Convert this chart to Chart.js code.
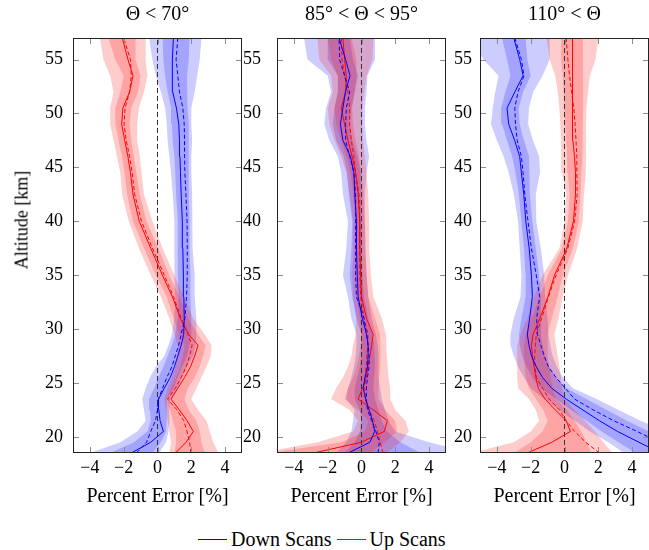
<!DOCTYPE html>
<html>
<head>
<meta charset="utf-8">
<script src="https://cdn.jsdelivr.net/npm/chart.js@4.4.0/dist/chart.umd.min.js"></script>
<style>
  body { margin: 0; background: #fff; width: 649px; height: 550px; position: relative; overflow: hidden; font-family: "Liberation Serif", serif; color: #000; }
  canvas { position: absolute; top: 0; }
  #ylab { position: absolute; left: 22px; top: 220px; transform: translate(-50%, -50%) rotate(-90deg); font-size: 18px; white-space: nowrap; }
  #legend { position: absolute; left: 198px; top: 527px; height: 24px; display: flex; align-items: center; font-size: 20px; white-space: nowrap; }
  .sw { display: inline-block; width: 29px; height: 1px; margin-right: 4px; }
</style>
</head>
<body>
<canvas id="c1" width="246" height="510" style="left:0px"></canvas>
<canvas id="c2" width="224" height="510" style="left:226px"></canvas>
<canvas id="c3" width="219" height="510" style="left:430px"></canvas>
<div id="ylab">Altitude [km]</div>
<div id="legend"><span class="sw" style="background:#0000ff"></span>Down Scans<span class="sw" style="background:#ff0000;margin-left:5px"></span>Up Scans</div>
<script>
// altitude grid [km], shared by all series
var altitude = [18.5, 19.5, 20.5, 21.5, 22.5, 23.5, 24.5, 25.5, 26.5, 27.5, 28.5, 29.5, 31, 33, 35, 37.5, 40, 42.5, 44.5, 46, 47.5, 49, 50.5, 52, 53.5, 55, 57];
var xTicks = [-4, -2, 0, 2, 4];
var yTicks = [20, 25, 30, 35, 40, 45, 50, 55];
var titles = ['Θ < 70°', '85° < Θ < 95°', '110° < Θ'];
var altMin = 18.5, altMax = 57;

// panel 1: Θ < 70°
var p1DownSolid   = [-1.55, -0.4, 0.35, 0.15, 0.08, 0.06, 0.4, 0.75, 1.0, 1.2, 1.4, 1.55, 1.58, 1.56, 1.53, 1.5, 1.47, 1.4, 1.36, 1.33, 1.3, 1.26, 1.12, 0.9, 0.86, 0.9, 0.94];
var p1DownDashed  = [-1.25, -0.65, -0.4, -0.12, 0.0, 0.05, 0.3, 0.55, 0.85, 1.05, 1.25, 1.4, 1.62, 1.72, 1.76, 1.76, 1.75, 1.68, 1.62, 1.6, 1.6, 1.58, 1.5, 1.3, 1.2, 1.1, 1.2];
var p1DownInnerLo = [-2.8, -1.4, -0.6, -0.4, -0.45, -0.5, -0.2, 0.05, 0.35, 0.6, 0.85, 1.05, 1.2, 1.25, 1.2, 1.2, 1.2, 1.1, 1.05, 1.0, 0.9, 0.85, 0.8, 0.6, 0.45, 0.35, 0.3];
var p1DownInnerHi = [-0.3, 0.2, 0.5, 0.55, 0.55, 0.55, 0.95, 1.2, 1.45, 1.75, 1.9, 2.0, 2.0, 1.95, 1.95, 1.9, 1.9, 1.85, 1.85, 1.85, 1.85, 1.85, 1.8, 1.75, 1.75, 1.85, 1.9];
var p1DownOuterLo = [-4.0, -2.2, -1.2, -0.7, -0.8, -0.9, -0.7, -0.45, -0.1, 0.4, 0.65, 0.85, 1.0, 1.05, 1.0, 1.0, 1.0, 0.9, 0.8, 0.7, 0.6, 0.55, 0.45, 0.2, -0.1, -0.3, -0.5];
var p1DownOuterHi = [0.1, 0.5, 0.65, 0.7, 0.7, 0.75, 1.2, 1.45, 1.75, 2.1, 2.25, 2.3, 2.3, 2.2, 2.2, 2.1, 2.05, 2.05, 2.0, 2.0, 2.05, 2.0, 2.0, 2.2, 2.35, 2.5, 2.6];
var p1UpSolid     = [1.06, 1.69, 2.12, 1.75, 1.29, 0.8, 1.2, 1.6, 1.95, 2.2, 2.4, 1.85, 1.35, 0.88, 0.29, -0.4, -1.08, -1.45, -1.6, -1.75, -1.94, -2.12, -2.05, -1.65, -1.45, -1.75, -2.08];
var p1UpDashed    = [1.98, 1.9, 1.75, 1.55, 1.15, 0.6, 1.05, 1.4, 1.7, 1.9, 2.05, 1.8, 1.4, 0.95, 0.4, -0.3, -0.95, -1.35, -1.5, -1.65, -1.85, -1.98, -1.92, -1.65, -1.55, -1.6, -2.0];
var p1UpInnerLo   = [1.0, 1.1, 1.1, 0.9, 0.75, 0.55, 0.8, 1.1, 1.35, 1.5, 1.6, 1.3, 0.95, 0.55, -0.1, -0.8, -1.45, -1.8, -1.95, -2.1, -2.3, -2.5, -2.5, -2.2, -2.0, -2.5, -2.9];
var p1UpInnerHi   = [2.8, 2.6, 2.5, 2.3, 1.85, 1.6, 1.8, 2.2, 2.5, 2.7, 2.85, 2.4, 1.8, 1.3, 0.7, 0.05, -0.65, -1.05, -1.25, -1.4, -1.55, -1.65, -1.55, -1.15, -1.0, -1.3, -1.3];
var p1UpOuterLo   = [0.7, 0.8, 0.7, 0.6, 0.5, 0.4, 0.6, 0.85, 1.05, 1.2, 1.2, 1.0, 0.7, 0.2, -0.4, -1.1, -1.7, -2.1, -2.2, -2.4, -2.6, -2.8, -2.8, -2.6, -2.8, -3.2, -3.4];
var p1UpOuterHi   = [3.6, 3.3, 3.1, 2.9, 2.4, 2.0, 2.3, 2.6, 2.9, 3.15, 3.2, 2.8, 2.1, 1.55, 1.0, 0.3, -0.3, -0.8, -0.95, -1.05, -1.2, -1.2, -1.1, -0.8, -0.6, -0.7, -0.7];

// panel 2: 85° < Θ < 95°
var p2DownSolid   = [-0.78, 0.5, 0.78, 0.65, 0.45, 0.25, 0.1, 0.2, 0.35, 0.39, 0.39, 0.3, 0.05, -0.2, -0.25, -0.3, -0.3, -0.4, -0.45, -0.65, -1.1, -1.25, -1.1, -0.95, -0.68, -0.94, -1.33];
var p2DownDashed  = [0.98, 1.05, 0.85, 0.6, 0.35, 0.29, 0.29, 0.35, 0.45, 0.45, 0.4, 0.3, 0.15, -0.3, -0.35, -0.35, -0.35, -0.35, -0.45, -0.7, -0.94, -0.94, -0.9, -0.7, -1.0, -1.29, -1.33];
var p2DownInnerLo = [-1.0, -0.4, -0.1, 0.0, -0.1, -0.4, -0.4, -0.25, -0.1, 0.0, 0.0, 0.0, -0.3, -0.55, -0.7, -0.6, -0.55, -0.75, -0.85, -1.05, -1.5, -1.7, -1.6, -1.4, -1.4, -2.0, -2.0];
var p2DownInnerHi = [3.5, 2.3, 1.5, 1.2, 1.0, 0.8, 0.7, 0.75, 0.8, 0.8, 0.75, 0.65, 0.4, 0.15, 0.05, 0.0, 0.0, -0.05, -0.05, -0.25, -0.55, -0.7, -0.6, -0.4, -0.2, -0.5, -0.7];
var p2DownOuterLo = [-1.5, -0.9, -0.6, -0.5, -0.4, -0.9, -0.8, -0.6, -0.45, -0.35, -0.3, -0.3, -0.6, -0.8, -1.1, -0.9, -0.8, -1.1, -1.2, -1.4, -1.9, -2.2, -2.1, -1.8, -2.0, -3.2, -3.4];
var p2DownOuterHi = [6.5, 4.0, 2.0, 1.6, 1.4, 1.2, 1.1, 1.0, 1.0, 1.0, 0.95, 0.85, 0.6, 0.4, 0.3, 0.25, 0.2, 0.2, 0.3, 0.45, 0.3, 0.2, 0.2, 0.3, 0.35, 0.8, 0.8];
var p2UpSolid     = [-2.84, 0.0, 1.35, 1.53, 0.69, -0.2, 0.06, 0.29, 0.38, 0.5, 0.6, 0.69, 0.29, 0.0, -0.05, -0.1, -0.1, -0.2, -0.35, -0.55, -0.8, -1.0, -1.2, -0.94, -0.9, -1.0, -1.1];
var p2UpDashed    = [1.27, 1.1, 0.95, 0.75, 0.45, 0.2, 0.2, 0.22, 0.28, 0.32, 0.36, 0.39, 0.14, -0.05, -0.1, -0.1, -0.1, -0.15, -0.35, -0.45, -0.6, -0.7, -0.7, -0.8, -1.0, -1.15, -1.2];
var p2UpInnerLo   = [-5.5, -1.2, 0.2, 0.4, -0.2, -1.0, -0.8, -0.5, -0.3, -0.15, -0.05, 0.0, -0.1, -0.3, -0.35, -0.35, -0.35, -0.5, -0.65, -0.9, -1.2, -1.5, -1.6, -1.4, -1.4, -1.8, -2.0];
var p2UpInnerHi   = [0.5, 1.4, 2.1, 2.0, 1.4, 1.0, 1.0, 1.05, 1.1, 1.1, 1.15, 1.1, 0.8, 0.4, 0.3, 0.2, 0.2, 0.1, 0.0, -0.15, -0.35, -0.5, -0.55, -0.4, -0.3, -0.3, -0.6];
var p2UpOuterLo   = [-6.0, -2.6, -0.5, -0.2, -0.7, -1.8, -1.5, -1.1, -0.8, -0.6, -0.5, -0.35, -0.3, -0.5, -0.55, -0.5, -0.5, -0.7, -0.9, -1.2, -1.6, -1.9, -2.0, -1.7, -1.8, -2.5, -2.6];
var p2UpOuterHi   = [1.5, 2.3, 2.8, 2.6, 2.0, 1.7, 1.7, 1.6, 1.55, 1.5, 1.5, 1.45, 1.2, 0.7, 0.55, 0.45, 0.45, 0.4, 0.3, 0.2, 0.1, 0.05, 0.05, 0.15, 0.3, 0.65, 0.7];

// panel 3: 110° < Θ
var p3DownSolid   = [5.7, 4.4, 3.14, 2.06, 1.08, 0.1, -0.75, -1.3, -1.67, -1.95, -2.1, -2.2, -2.06, -1.9, -1.96, -2.09, -2.29, -2.41, -2.55, -2.65, -2.95, -3.3, -3.4, -2.94, -2.45, -2.65, -3.0];
var p3DownDashed  = [7.0, 5.6, 4.3, 2.9, 1.7, 0.6, 0.05, -0.5, -0.95, -1.2, -1.4, -1.6, -1.65, -1.47, -1.67, -1.96, -2.16, -2.35, -2.45, -2.55, -2.8, -2.9, -2.94, -2.75, -2.4, -2.55, -2.94];
var p3DownInnerLo = [4.2, 3.2, 2.2, 1.3, 0.4, -0.5, -1.4, -1.9, -2.25, -2.5, -2.65, -2.7, -2.55, -2.3, -2.3, -2.4, -2.55, -2.7, -2.9, -3.1, -3.4, -3.7, -3.75, -3.5, -3.2, -3.4, -3.7];
var p3DownInnerHi = [8.0, 6.5, 5.0, 3.7, 2.5, 1.3, 0.1, -0.5, -0.9, -1.15, -1.3, -1.4, -1.4, -1.4, -1.5, -1.7, -1.9, -2.05, -2.05, -2.1, -2.4, -2.65, -2.7, -2.45, -2.0, -2.2, -2.3];
var p3DownOuterLo = [3.5, 2.6, 1.5, 0.6, -0.3, -1.2, -2.0, -2.4, -2.75, -3.0, -3.2, -3.2, -3.0, -2.6, -2.55, -2.65, -2.75, -3.0, -3.3, -3.6, -4.0, -4.35, -4.25, -4.1, -3.9, -4.8, -5.5];
var p3DownOuterHi = [9.0, 7.5, 6.0, 4.5, 3.2, 1.9, 0.5, -0.1, -0.45, -0.7, -0.85, -0.95, -1.0, -1.15, -1.2, -1.4, -1.67, -1.7, -1.45, -1.5, -1.86, -2.15, -2.1, -1.85, -1.3, -0.88, -0.88];
var p3UpSolid     = [-2.2, -0.75, 0.35, 0.1, -0.55, -1.15, -1.55, -1.7, -1.8, -1.9, -1.96, -1.86, -1.45, -0.98, -0.59, 0.14, 0.53, 0.65, 0.65, 0.59, 0.5, 0.48, 0.47, 0.49, 0.47, 0.45, 0.49];
var p3UpDashed    = [2.06, 1.25, 0.6, 0.1, -0.3, -0.9, -1.3, -1.65, -1.75, -1.77, -1.72, -1.67, -1.35, -0.95, -0.5, 0.2, 0.6, 0.75, 0.73, 0.73, 0.68, 0.63, 0.55, 0.42, 0.3, 0.2, 0.1];
var p3UpInnerLo   = [-3.0, -2.0, -1.3, -1.0, -1.25, -1.7, -2.1, -2.3, -2.35, -2.4, -2.4, -2.3, -1.95, -1.45, -1.0, -0.15, 0.2, 0.3, 0.2, 0.15, 0.1, 0.05, 0.0, -0.05, -0.1, -0.2, -0.2];
var p3UpInnerHi   = [1.6, 1.3, 1.0, 0.6, 0.15, -0.5, -0.7, -0.8, -0.9, -1.0, -1.0, -1.0, -0.75, -0.4, -0.1, 0.5, 0.85, 0.95, 1.0, 1.05, 1.08, 1.08, 1.1, 1.1, 1.1, 1.1, 1.08];
var p3UpOuterLo   = [-5.5, -3.0, -2.0, -1.5, -1.7, -2.1, -2.75, -2.8, -2.8, -2.8, -2.8, -2.6, -2.2, -1.8, -1.3, -0.3, 0.0, 0.1, -0.15, -0.2, -0.2, -0.25, -0.3, -0.4, -0.55, -0.88, -1.06];
var p3UpOuterHi   = [2.84, 2.3, 1.8, 1.2, 0.6, 0.0, -0.15, -0.2, -0.3, -0.4, -0.5, -0.6, -0.35, -0.1, 0.2, 0.75, 1.08, 1.15, 1.25, 1.27, 1.27, 1.27, 1.3, 1.4, 1.5, 1.84, 2.0];

var blue = '#0000ff', red = '#ff0000';
var blueFill = 'rgba(0,0,255,0.2)', redFill = 'rgba(255,0,0,0.2)';
var font = '"Liberation Serif", "Times New Roman", serif';

Chart.defaults.color = '#000';
Chart.defaults.font.family = font;

function pts(xs) {
    return xs.map(function (x, i) { return {x: x, y: altitude[i]}; });
}

function lineSet(xs, color, dash) {
    return {data: pts(xs), borderColor: color, borderWidth: 1, borderDash: dash, fill: false, order: 0};
}

// closed polygon: lower edge going up, upper edge coming back down
function bandSet(lo, hi, color, order) {
    return {data: pts(lo).concat(pts(hi).reverse()), fill: 'shape', backgroundColor: color,
            borderColor: 'rgba(0,0,0,0)', borderWidth: 0, order: order};
}

// pgfplots style box with inward ticks on all four sides
var framePlugin = {
    id: 'frame',
    afterDraw: function (chart) {
        var ctx = chart.ctx, a = chart.chartArea, x = chart.scales.x, y = chart.scales.y;
        ctx.save();
        ctx.strokeStyle = '#8c8c8c';
        ctx.lineWidth = 1;
        ctx.beginPath();
        xTicks.forEach(function (v) {
            var px = Math.round(x.getPixelForValue(v)) + 0.5;
            ctx.moveTo(px, a.bottom); ctx.lineTo(px, a.bottom - 6);
            ctx.moveTo(px, a.top); ctx.lineTo(px, a.top + 6);
        });
        yTicks.forEach(function (v) {
            var py = Math.round(y.getPixelForValue(v)) + 0.5;
            ctx.moveTo(a.left, py); ctx.lineTo(a.left + 6, py);
            ctx.moveTo(a.right, py); ctx.lineTo(a.right - 6, py);
        });
        ctx.stroke();
        ctx.strokeStyle = '#222';
        ctx.strokeRect(Math.round(a.left) + 0.5, Math.round(a.top) + 0.5,
                       Math.round(a.right - a.left) - 1, Math.round(a.bottom - a.top) - 1);
        ctx.restore();
    }
};

function makePanel(id, title, yWidth, yPad, rightPad, d) {
    var zero = {data: [{x: 0, y: altMin}, {x: 0, y: altMax}], borderColor: '#333', borderWidth: 1,
                borderDash: [5, 3], fill: false, order: 1};
    new Chart(document.getElementById(id), {
        type: 'line',
        data: {
            datasets: [
                lineSet(d.downSolid, blue, []),
                lineSet(d.downDashed, blue, [4, 2.5]),
                lineSet(d.upSolid, red, []),
                lineSet(d.upDashed, red, [4, 2.5]),
                zero,
                bandSet(d.upInnerLo, d.upInnerHi, redFill, 2),
                bandSet(d.upOuterLo, d.upOuterHi, redFill, 2),
                bandSet(d.downInnerLo, d.downInnerHi, blueFill, 3),
                bandSet(d.downOuterLo, d.downOuterHi, blueFill, 3)
            ]
        },
        options: {
            responsive: false,
            animation: false,
            devicePixelRatio: 1,
            layout: {padding: {left: 0, right: rightPad, top: 0, bottom: 0}},
            elements: {point: {radius: 0}, line: {tension: 0}},
            plugins: {
                legend: {display: false},
                tooltip: {enabled: false},
                title: {display: true, fullSize: false, text: title, font: {size: 20, weight: 'normal'}, padding: {top: 3, bottom: 11}}
            },
            scales: {
                x: {
                    type: 'linear', min: -5, max: 5,
                    grid: {display: false, drawTicks: false, tickLength: 0}, border: {display: false},
                    afterBuildTicks: function (s) { s.ticks = xTicks.map(function (v) { return {value: v}; }); },
                    afterFit: function (s) { s.height = 57; },
                    ticks: {
                        font: {size: 18}, padding: 4, maxRotation: 0,
                        callback: function (v) { return v < 0 ? '\u2212' + Math.abs(v) : String(v); }
                    },
                    title: {display: true, text: 'Percent Error [%]', font: {size: 20}, padding: {top: 0, bottom: 1}}
                },
                y: {
                    type: 'linear', min: altMin, max: altMax,
                    grid: {display: false, drawTicks: false, tickLength: 0}, border: {display: false},
                    afterBuildTicks: function (s) { s.ticks = yTicks.map(function (v) { return {value: v}; }); },
                    afterFit: function (s) { s.width = yWidth; },
                    ticks: {font: {size: 18}, padding: yPad}
                }
            }
        },
        plugins: [framePlugin]
    });
}

makePanel('c1', titles[0], 73, 10, 4, {
    downSolid: p1DownSolid, downDashed: p1DownDashed,
    downInnerLo: p1DownInnerLo, downInnerHi: p1DownInnerHi, downOuterLo: p1DownOuterLo, downOuterHi: p1DownOuterHi,
    upSolid: p1UpSolid, upDashed: p1UpDashed,
    upInnerLo: p1UpInnerLo, upInnerHi: p1UpInnerHi, upOuterLo: p1UpOuterLo, upOuterHi: p1UpOuterHi
});
makePanel('c2', titles[1], 51, 16, 4, {
    downSolid: p2DownSolid, downDashed: p2DownDashed,
    downInnerLo: p2DownInnerLo, downInnerHi: p2DownInnerHi, downOuterLo: p2DownOuterLo, downOuterHi: p2DownOuterHi,
    upSolid: p2UpSolid, upDashed: p2UpDashed,
    upInnerLo: p2UpInnerLo, upInnerHi: p2UpInnerHi, upOuterLo: p2UpOuterLo, upOuterHi: p2UpOuterHi
});
makePanel('c3', titles[2], 50, 8, 0, {
    downSolid: p3DownSolid, downDashed: p3DownDashed,
    downInnerLo: p3DownInnerLo, downInnerHi: p3DownInnerHi, downOuterLo: p3DownOuterLo, downOuterHi: p3DownOuterHi,
    upSolid: p3UpSolid, upDashed: p3UpDashed,
    upInnerLo: p3UpInnerLo, upInnerHi: p3UpInnerHi, upOuterLo: p3UpOuterLo, upOuterHi: p3UpOuterHi
});
</script>
</body>
</html>
